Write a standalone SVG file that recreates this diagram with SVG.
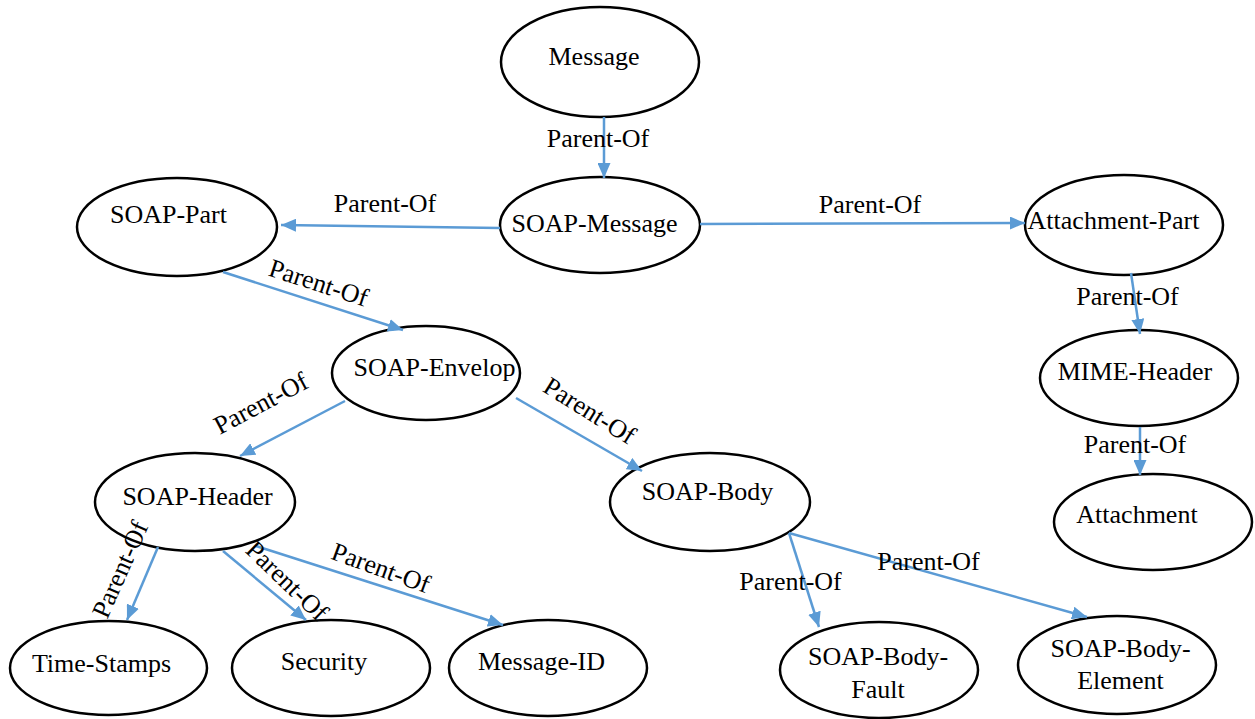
<svg xmlns="http://www.w3.org/2000/svg" width="1255" height="719" viewBox="0 0 1255 719" font-family="'Liberation Serif', 'Times New Roman', Tinos, 'DejaVu Serif', serif">
  <style>
    .node ellipse { fill: #ffffff; stroke: #000000; stroke-width: 2.5; }
    text { font-family: 'Liberation Serif', 'Times New Roman', Tinos, 'DejaVu Serif', serif; font-size: 26px; fill: #000000; text-anchor: middle; }
    .edge { stroke: #5B9BD5; stroke-width: 2.5; fill: none; marker-end: url(#arrow); }
  </style>
  <defs>
    <marker id="arrow" markerUnits="userSpaceOnUse" markerWidth="15" markerHeight="13" refX="15" refY="6.5" orient="auto">
      <path d="M0,0 L15,6.5 L0,13 z" fill="#5B9BD5"/>
    </marker>
  </defs>
  <rect width="1255" height="719" fill="#ffffff"/>

  <!-- nodes -->
  <g id="message" class="node">
    <ellipse cx="600" cy="62" rx="99" ry="55"/>
    <text x="594" y="65">Message</text>
  </g>
  <g id="soap-message" class="node">
    <ellipse cx="600" cy="225" rx="100" ry="48"/>
    <text x="594.5" y="232">SOAP-Message</text>
  </g>
  <g id="soap-part" class="node">
    <ellipse cx="177" cy="227" rx="100" ry="49"/>
    <text x="168.5" y="223">SOAP-Part</text>
  </g>
  <g id="attachment-part" class="node">
    <ellipse cx="1124" cy="225" rx="99" ry="50"/>
    <text x="1113.5" y="229">Attachment-Part</text>
  </g>
  <g id="soap-envelop" class="node">
    <ellipse cx="426" cy="373" rx="94" ry="47"/>
    <text x="434.5" y="376">SOAP-Envelop</text>
  </g>
  <g id="mime-header" class="node">
    <ellipse cx="1139" cy="378" rx="99" ry="48"/>
    <text x="1135" y="380">MIME-Header</text>
  </g>
  <g id="attachment" class="node">
    <ellipse cx="1153" cy="522" rx="99" ry="48"/>
    <text x="1137" y="523">Attachment</text>
  </g>
  <g id="soap-header" class="node">
    <ellipse cx="195" cy="502" rx="100" ry="49"/>
    <text x="197.5" y="505">SOAP-Header</text>
  </g>
  <g id="soap-body" class="node">
    <ellipse cx="710" cy="502" rx="100" ry="49"/>
    <text x="707.5" y="500">SOAP-Body</text>
  </g>
  <g id="time-stamps" class="node">
    <ellipse cx="108.5" cy="668" rx="98.5" ry="47"/>
    <text x="101.5" y="672">Time-Stamps</text>
  </g>
  <g id="security" class="node">
    <ellipse cx="331" cy="668" rx="99" ry="48"/>
    <text x="324" y="670">Security</text>
  </g>
  <g id="message-id" class="node">
    <ellipse cx="548" cy="668" rx="99" ry="48"/>
    <text x="541.5" y="670">Message-ID</text>
  </g>
  <g id="soap-body-fault" class="node">
    <ellipse cx="879" cy="670" rx="99" ry="48"/>
    <text x="878" y="665">SOAP-Body-</text>
    <text x="878" y="698">Fault</text>
  </g>
  <g id="soap-body-element" class="node">
    <ellipse cx="1117" cy="665" rx="99" ry="49"/>
    <text x="1120.5" y="657">SOAP-Body-</text>
    <text x="1120.5" y="689">Element</text>
  </g>

  <!-- connectors -->
  <g id="connectors">
    <line class="edge" x1="604" y1="117" x2="604" y2="178"/>
    <line class="edge" x1="500" y1="228" x2="281" y2="225"/>
    <line class="edge" x1="700" y1="224" x2="1025" y2="223"/>
    <line class="edge" x1="223" y1="272" x2="403" y2="330"/>
    <line class="edge" x1="345" y1="401" x2="240" y2="456"/>
    <line class="edge" x1="516" y1="398" x2="642" y2="471"/>
    <line class="edge" x1="158" y1="547" x2="127" y2="620"/>
    <line class="edge" x1="223" y1="551" x2="306" y2="620"/>
    <line class="edge" x1="256" y1="546" x2="503" y2="625"/>
    <line class="edge" x1="1131" y1="273" x2="1140" y2="334"/>
    <line class="edge" x1="1140" y1="427" x2="1140" y2="475"/>
    <line class="edge" x1="789" y1="533" x2="819" y2="627"/>
    <line class="edge" x1="789" y1="533" x2="1087" y2="617"/>

    <!-- edge labels -->
    <text x="598" y="147">Parent-Of</text>
    <text x="385" y="212">Parent-Of</text>
    <text x="870" y="213">Parent-Of</text>
    <text x="1127.5" y="305">Parent-Of</text>
    <text x="1135" y="453">Parent-Of</text>
    <text x="790.5" y="590">Parent-Of</text>
    <text x="928.5" y="570">Parent-Of</text>
    <text transform="translate(316,291) rotate(18)">Parent-Of</text>
    <text transform="translate(265,411) rotate(-28)">Parent-Of</text>
    <text transform="translate(585,418) rotate(32)">Parent-Of</text>
    <text transform="translate(128,573) rotate(-66)">Parent-Of</text>
    <text transform="translate(281,587) rotate(44)">Parent-Of</text>
    <text transform="translate(378,576) rotate(20)">Parent-Of</text>
  </g>
</svg>
